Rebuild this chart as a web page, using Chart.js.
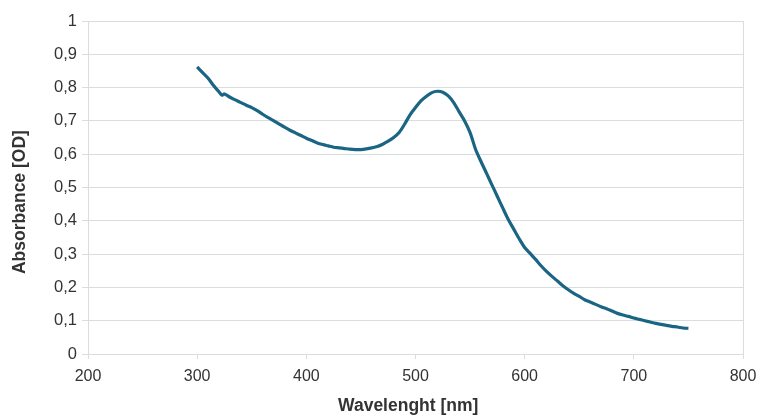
<!DOCTYPE html>
<html>
<head>
<meta charset="utf-8">
<script src="https://cdn.jsdelivr.net/npm/chart.js@4"></script>
<style>
  html, body { margin: 0; padding: 0; background: #ffffff; }
  #wrap { width: 758px; height: 418px; }
</style>
</head>
<body>
<div id="wrap"><canvas id="c" width="758" height="418"></canvas></div>
<script>
const wavelengths = [300,305,310,315,320,323,325,330,335,340,345,350,355,360,365,370,375,380,385,390,395,400,405,410,415,420,425,430,435,440,445,450,455,460,465,470,475,480,485,490,495,500,505,510,515,520,525,530,535,540,545,550,555,560,565,570,575,580,585,590,595,600,605,610,615,620,625,630,635,640,645,650,655,660,665,670,675,680,685,690,695,700,705,710,715,720,725,730,735,740,745,750];
const absorbance = [0.862,0.845,0.828,0.806,0.787,0.777,0.781,0.771,0.763,0.755,0.747,0.740,0.731,0.720,0.710,0.701,0.691,0.681,0.672,0.664,0.656,0.648,0.641,0.634,0.629,0.625,0.621,0.619,0.617,0.615,0.614,0.614,0.616,0.619,0.623,0.630,0.639,0.650,0.665,0.690,0.718,0.740,0.760,0.774,0.785,0.789,0.786,0.775,0.755,0.727,0.700,0.665,0.615,0.578,0.543,0.508,0.473,0.438,0.404,0.375,0.346,0.320,0.302,0.284,0.265,0.248,0.233,0.219,0.205,0.193,0.182,0.173,0.163,0.156,0.149,0.142,0.136,0.129,0.122,0.117,0.113,0.108,0.104,0.100,0.096,0.092,0.089,0.086,0.083,0.081,0.078,0.077];
const xTicks = [200,300,400,500,600,700,800];
const yTicks = [0,0.1,0.2,0.3,0.4,0.5,0.6,0.7,0.8,0.9,1];
const xTitle = 'Wavelenght [nm]';
const yTitle = 'Absorbance [OD]';

const points = wavelengths.map((w, i) => ({ x: w, y: absorbance[i] }));
const FONT = "'Liberation Sans', Arial, sans-serif";
const GRID = '#d9dde0';
const NBSP = '\u00a0';

new Chart(document.getElementById('c'), {
  type: 'line',
  data: {
    datasets: [{
      data: points,
      borderColor: '#1a6584',
      borderWidth: 3.2,
      pointRadius: 0,
      tension: 0.3,
      fill: false
    }]
  },
  options: {
    responsive: false,
    animation: false,
    devicePixelRatio: 1,
    layout: { padding: { top: 21, right: 15, bottom: 0, left: 0 } },
    plugins: { legend: { display: false }, tooltip: { enabled: false } },
    scales: {
      x: {
        type: 'linear',
        min: xTicks[0],
        max: xTicks[xTicks.length - 1],
        afterBuildTicks: s => { s.ticks = xTicks.map(v => ({ value: v })); },
        afterFit: s => { s.height = 64; s.paddingLeft = 0; s.paddingRight = 0; },
        border: { display: true, color: GRID },
        grid: {
          color: ctx => (ctx.tick && (ctx.tick.value === 800 || ctx.tick.value === 200)) ? GRID : 'rgba(0,0,0,0)',
          tickColor: GRID,
          tickLength: 5,
          drawOnChartArea: true
        },
        ticks: {
          color: '#333333',
          font: { family: FONT, size: 16 },
          padding: 8,
          maxRotation: 0
        },
        title: {
          display: true,
          text: xTitle + NBSP.repeat(3),
          color: '#333333',
          font: { family: FONT, size: 17.5, weight: 'bold' },
          padding: { top: 0, bottom: 1 }
        }
      },
      y: {
        min: 0,
        max: 1,
        afterBuildTicks: s => { s.ticks = yTicks.map(v => ({ value: v })); },
        afterFit: s => { s.width = 88; s.paddingTop = 0; s.paddingBottom = 0; },
        border: { display: true, color: GRID },
        grid: { color: GRID, tickLength: 6 },
        ticks: {
          color: '#333333',
          font: { family: FONT, size: 16.5 },
          padding: 5,
          callback: v => String(Number(v.toFixed(1))).replace('.', ',')
        },
        title: {
          display: true,
          text: yTitle + NBSP.repeat(6),
          color: '#333333',
          font: { family: FONT, size: 17.5, weight: 'bold' },
          padding: { top: 10, bottom: 0 }
        }
      }
    }
  }
});
</script>
</body>
</html>
